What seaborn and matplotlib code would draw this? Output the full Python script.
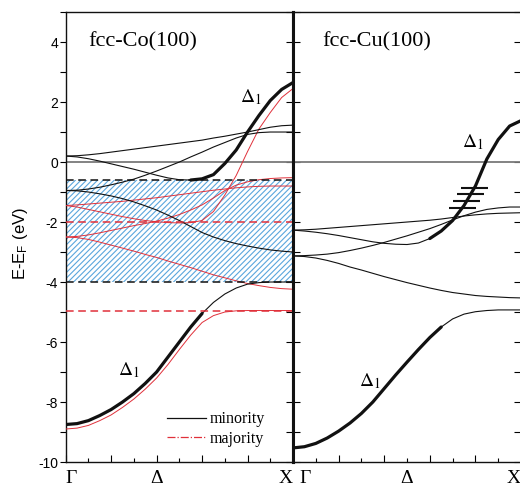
import numpy as np
import pandas as pd
import matplotlib
matplotlib.use("Agg")
import matplotlib.pyplot as plt
import seaborn as sns
from matplotlib.lines import Line2D
from matplotlib.ticker import MultipleLocator, FixedLocator

# ---------------- data ----------------
k_path = [0.00, 0.05, 0.10, 0.15, 0.20, 0.25, 0.30, 0.35, 0.40, 0.45, 0.50,
          0.55, 0.60, 0.65, 0.70, 0.75, 0.80, 0.85, 0.90, 0.95, 1.00]

# fcc-Co(100) minority (black)
co_min_d1_low = [-8.75, -8.72, -8.62, -8.45, -8.25, -8.00, -7.72, -7.38, -7.00, -6.50, -6.00,
                 -5.50, -5.05, -4.68, -4.40, -4.20, -4.07, -4.02, -4.00, -4.00, -4.00]
co_min_d1_up = [0.20, 0.17, 0.11, 0.03, -0.06, -0.15, -0.24, -0.34, -0.44, -0.53, -0.59,
                -0.60, -0.56, -0.42, -0.05, 0.40, 1.00, 1.55, 2.05, 2.42, 2.65]
co_min_b3 = [0.20, 0.21, 0.24, 0.28, 0.33, 0.38, 0.43, 0.48, 0.53, 0.58, 0.63,
             0.68, 0.73, 0.80, 0.86, 0.93, 1.00, 1.08, 1.16, 1.21, 1.23]
co_min_b4 = [-0.95, -0.94, -0.90, -0.84, -0.76, -0.67, -0.57, -0.44, -0.30, -0.15, 0.00,
             0.17, 0.33, 0.50, 0.65, 0.80, 0.92, 0.98, 1.00, 1.00, 1.00]
co_min_b5 = [-0.95, -0.96, -1.00, -1.06, -1.13, -1.22, -1.33, -1.46, -1.60, -1.77, -1.95,
             -2.15, -2.35, -2.50, -2.62, -2.72, -2.80, -2.87, -2.93, -2.97, -3.00]

# fcc-Co(100) majority (red)
co_maj_d1_low = [-8.90, -8.87, -8.78, -8.62, -8.43, -8.18, -7.90, -7.57, -7.20, -6.75, -6.25,
                 -5.77, -5.35, -5.12, -5.00, -4.96, -4.95, -4.95, -4.95, -4.95, -4.95]
co_maj_d1_up = [-1.45, -1.50, -1.58, -1.66, -1.74, -1.82, -1.89, -1.95, -1.99, -2.02, -2.03,
                -2.02, -1.95, -1.65, -1.10, -0.45, 0.35, 1.10, 1.65, 2.15, 2.45]
co_maj_b3 = [-1.45, -1.43, -1.40, -1.37, -1.34, -1.31, -1.27, -1.23, -1.19, -1.14, -1.09,
             -1.04, -0.99, -0.94, -0.90, -0.86, -0.83, -0.81, -0.80, -0.80, -0.80]
co_maj_b4 = [-2.50, -2.48, -2.43, -2.36, -2.28, -2.20, -2.12, -2.05, -1.97, -1.87, -1.75,
             -1.60, -1.43, -1.20, -0.95, -0.77, -0.66, -0.59, -0.55, -0.53, -0.52]
co_maj_b5 = [-2.50, -2.52, -2.58, -2.67, -2.77, -2.87, -2.97, -3.08, -3.18, -3.30, -3.41,
             -3.52, -3.64, -3.76, -3.86, -3.96, -4.05, -4.12, -4.18, -4.22, -4.24]

# fcc-Cu(100) (black)
cu_d1_low = [-9.53, -9.49, -9.38, -9.20, -8.97, -8.70, -8.38, -8.00, -7.55, -7.10, -6.67,
             -6.25, -5.85, -5.50, -5.23, -5.07, -4.99, -4.95, -4.93, -4.93, -4.93]
cu_d1_up = [-2.27, -2.30, -2.34, -2.39, -2.45, -2.52, -2.59, -2.66, -2.71, -2.74, -2.75,
            -2.70, -2.55, -2.30, -1.95, -1.45, -0.80, 0.10, 0.75, 1.20, 1.38]
cu_b_a = [-2.27, -2.26, -2.24, -2.21, -2.18, -2.15, -2.12, -2.09, -2.06, -2.03, -2.00,
          -1.97, -1.94, -1.90, -1.85, -1.80, -1.76, -1.73, -1.71, -1.70, -1.69]
cu_b_c = [-3.13, -3.12, -3.10, -3.07, -3.02, -2.95, -2.87, -2.78, -2.68, -2.57, -2.46,
          -2.34, -2.22, -2.08, -1.93, -1.79, -1.67, -1.58, -1.53, -1.50, -1.50]
cu_b_d = [-3.13, -3.15, -3.20, -3.28, -3.38, -3.50, -3.60, -3.71, -3.82, -3.92, -4.02,
          -4.11, -4.20, -4.28, -4.35, -4.40, -4.45, -4.48, -4.50, -4.52, -4.53]
cu_qw_levels = [-0.87, -1.07, -1.30, -1.53]

# reference levels
co_gap_min = [-0.6, -4.0]        # black dashed (hatched window)
co_gap_maj = [-2.0, -4.95]       # red dashed
fermi_level = 0.0

co_k_labels = ["Γ", "Δ", "X"]
co_k_label_pos = [0.0, 0.4, 1.0]
cu_k_labels = ["Γ", "Δ", "X"]
cu_k_label_pos = [0.03, 0.5, 1.0]
y_ticks = [4, 2, 0, -2, -4, -6, -8, -10]
legend_labels = ["minority", "majority"]

# ---------------- styling ----------------
plt.rcParams["mathtext.fontset"] = "stix"
plt.rcParams["hatch.linewidth"] = 0.8
plt.rcParams["axes.unicode_minus"] = False
SERIF = "Liberation Serif"
SANS = "Liberation Sans"
BLACK = "#111111"
RED = "#e0303a"
HATCH = "#5aa6dd"

fig = plt.figure(figsize=(5.2, 4.87), dpi=100)
ax1 = fig.add_axes([0.1263, 0.0513, 0.4372, 0.924])
ax2 = fig.add_axes([0.5635, 0.0513, 0.4385, 0.924])

kp = np.array(k_path)


def band(ax, y, color, lw, mask=None, ls="-", z=3):
    x = kp
    yy = np.array(y)
    if mask is not None:
        x = x[mask]
        yy = yy[mask]
    sns.lineplot(x=x, y=yy, ax=ax, color=color, lw=lw, ls=ls,
                 estimator=None, sort=False, legend=False, zorder=z,
                 solid_joinstyle="round", solid_capstyle="round")


for ax in (ax1, ax2):
    ax.set_xlim(0, 1)
    ax.set_ylim(-10, 5)
    ax.axhline(fermi_level, color="#7a7a7a", lw=1.3, zorder=2)

# ---- Co panel ----
ax1.fill_between([0, 1], co_gap_min[1], co_gap_min[0], facecolor="white",
                 edgecolor=HATCH, hatch="//////", linewidth=0, zorder=1)
for e in co_gap_min:
    ax1.axhline(e, color=BLACK, lw=1.1, ls=(0, (5, 3)), zorder=4)
for e in co_gap_maj:
    ax1.axhline(e, color=RED, lw=1.1, ls=(0, (5, 3)), zorder=4)

THIN = 0.8
THICK = 2.3
for y in (co_maj_d1_low, co_maj_d1_up, co_maj_b3, co_maj_b4, co_maj_b5):
    band(ax1, y, RED, 0.7)
for y in (co_min_d1_low, co_min_d1_up, co_min_b3, co_min_b4, co_min_b5):
    band(ax1, y, BLACK, THIN)
band(ax1, co_min_d1_low, BLACK, THICK, mask=kp <= 0.6)
band(ax1, co_min_d1_up, BLACK, THICK, mask=kp >= 0.55)

# ---- Cu panel ----
for y in (cu_d1_low, cu_d1_up, cu_b_a, cu_b_c, cu_b_d):
    band(ax2, y, BLACK, THIN)
band(ax2, cu_d1_low, BLACK, THICK, mask=kp <= 0.65)
band(ax2, cu_d1_up, BLACK, THICK, mask=kp >= 0.6)
rise = kp >= 0.6
kc = np.interp(cu_qw_levels, np.array(cu_d1_up)[rise], kp[rise])
for e, kk in zip(cu_qw_levels, kc):
    ax2.hlines(e, kk - 0.06, kk + 0.06, color=BLACK, lw=1.5, zorder=5)

# ---- texts ----
ax1.text(0.098, 4.0, "fcc-Co(100)", family=SERIF, fontsize=16, va="center", ha="left")
ax2.text(0.127, 4.0, "fcc-Cu(100)", family=SERIF, fontsize=16, va="center", ha="left")
d1 = r"$\mathrm{\Delta}_1$"
ax1.text(0.765, 2.15, d1, fontsize=14, va="center", ha="left")
ax1.text(0.23, -6.95, d1, fontsize=14, va="center", ha="left")
ax2.text(0.74, 0.65, d1, fontsize=14, va="center", ha="left")
ax2.text(0.29, -7.3, d1, fontsize=14, va="center", ha="left")

fig.text(20 / 520, 1 - 244 / 487, r"E-E$_\mathregular{F}$ (eV)", family=SANS,
         fontsize=12, rotation=90, ha="center", va="center")

# ---- axes / ticks ----
for ax, labs, pos in ((ax1, co_k_labels, co_k_label_pos), (ax2, cu_k_labels, cu_k_label_pos)):
    ax.xaxis.set_major_locator(MultipleLocator(0.2))
    ax.xaxis.set_minor_locator(MultipleLocator(0.1))
    ax.tick_params(axis="x", which="major", direction="in", length=5, width=0.8,
                   labelbottom=False, top=False)
    ax.tick_params(axis="x", which="minor", direction="in", length=3, width=0.8, top=False)
    for lab, p in zip(labs, pos):
        ha = "left" if lab == "Γ" else ("right" if lab == "X" else "center")
        ax.text(p, -0.018, lab, transform=ax.get_xaxis_transform(), family=SERIF,
                fontsize=14, ha=ha, va="top")
    ax.set_xlabel("")
    ax.set_ylabel("")
    for s in ax.spines.values():
        s.set_linewidth(1.0)
        s.set_color(BLACK)

ax1.spines["right"].set_linewidth(2.2)
ax2.spines["left"].set_linewidth(2.2)

ax1.yaxis.set_major_locator(FixedLocator(y_ticks))
ax1.yaxis.set_minor_locator(MultipleLocator(1))
ax1.tick_params(axis="y", which="both", direction="out", length=4, width=0.8,
                left=True, right=False, pad=1.5, labelsize=10)
for t in ax1.get_yticklabels():
    t.set_family(SANS)
sec = ax1.secondary_yaxis("right")
sec.yaxis.set_major_locator(MultipleLocator(1))
sec.tick_params(axis="y", direction="in", length=5, width=0.8, labelright=False)
sec.spines["right"].set_visible(False)

ax2.yaxis.set_major_locator(MultipleLocator(1))
ax2.tick_params(axis="y", which="both", direction="in", length=5, width=0.8,
                left=True, right=True, labelleft=False)

# ---- legend ----
handles = [Line2D([], [], color=BLACK, lw=0.9, ls="-"),
           Line2D([], [], color=RED, lw=0.9, ls="-.")]
leg = ax1.legend(handles, legend_labels, loc="lower right", bbox_to_anchor=(0.905, 0.02),
                 frameon=False, prop={"family": SERIF, "size": 11.5},
                 handlelength=2.4, handletextpad=0.25, labelspacing=0.2, borderaxespad=0)

fig.savefig("out.png", dpi=100)
